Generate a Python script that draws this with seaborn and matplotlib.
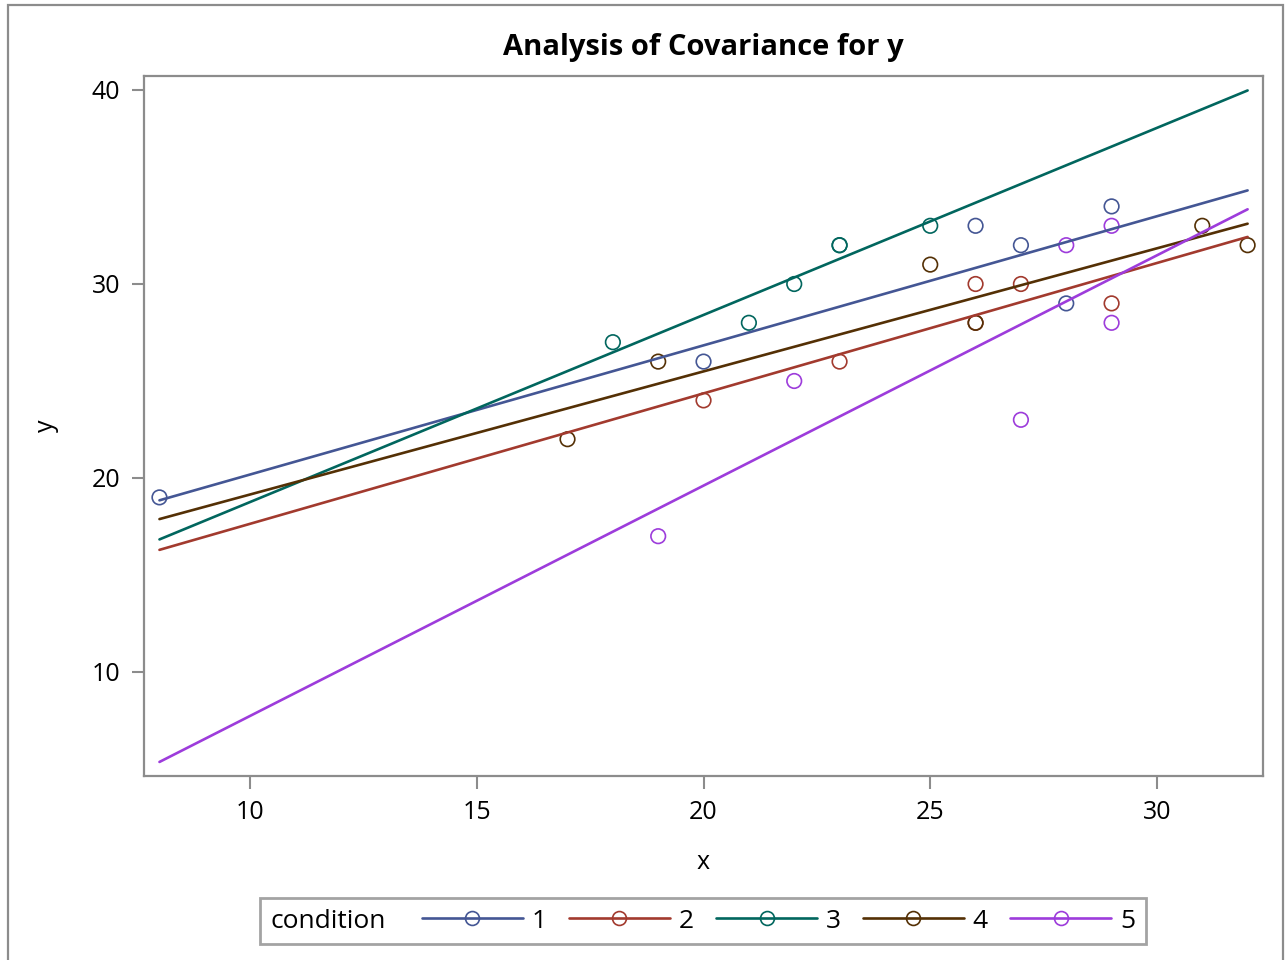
import numpy as np
import pandas as pd
import matplotlib
matplotlib.use("Agg")
import matplotlib.pyplot as plt
import seaborn as sns
from matplotlib.lines import Line2D
from matplotlib.patches import Rectangle
from matplotlib.offsetbox import HPacker

# data
cond1_x = [8, 20, 26, 27, 28, 29]
cond1_y = [19, 26, 33, 32, 29, 34]
cond2_x = [20, 23, 26, 27, 29, 26]
cond2_y = [24, 26, 30, 30, 29, 28]
cond3_x = [18, 21, 22, 23, 23, 25]
cond3_y = [27, 28, 30, 32, 32, 33]
cond4_x = [17, 19, 25, 26, 31, 32]
cond4_y = [22, 26, 31, 28, 33, 32]
cond5_x = [19, 22, 27, 28, 29, 29]
cond5_y = [17, 25, 23, 32, 33, 28]

conditions = ["1", "2", "3", "4", "5"]
colors = ["#445694", "#A23A2E", "#01665E", "#543005", "#9D3CDB"]
x_ticks = [10, 15, 20, 25, 30]
y_ticks = [10, 20, 30, 40]

df = pd.concat([
    pd.DataFrame({"x": cond1_x, "y": cond1_y, "condition": "1"}),
    pd.DataFrame({"x": cond2_x, "y": cond2_y, "condition": "2"}),
    pd.DataFrame({"x": cond3_x, "y": cond3_y, "condition": "3"}),
    pd.DataFrame({"x": cond4_x, "y": cond4_y, "condition": "4"}),
    pd.DataFrame({"x": cond5_x, "y": cond5_y, "condition": "5"}),
], ignore_index=True)

sns.set_style("white")
plt.rcParams["font.family"] = ["Open Sans", "DejaVu Sans"]
plt.rcParams["text.color"] = "black"
plt.rcParams["axes.labelcolor"] = "black"
plt.rcParams["xtick.labelcolor"] = "black"
plt.rcParams["ytick.labelcolor"] = "black"
grey = "#8c8c8c"

fig = plt.figure(figsize=(12.85, 9.6), dpi=100)
ax = fig.add_axes([0.1121, 0.1917, 0.8708, 0.7291])

# fitted lines span the full x range of the data
ax.set_xlim(df["x"].min(), df["x"].max())
for cond, col in zip(conditions, colors):
    sub = df[df["condition"] == cond]
    sns.regplot(data=sub, x="x", y="y", ax=ax, scatter=False, ci=None,
                truncate=False, color=col, line_kws={"linewidth": 1.9})

sns.scatterplot(data=df, x="x", y="y", hue="condition", palette=colors,
                hue_order=conditions, ax=ax, s=110, marker="o",
                linewidth=1.2, legend=False)
# open circles coloured by group
pts = ax.collections[-1]
pts.set_facecolor("none")
pts.set_edgecolors([colors[conditions.index(c)] for c in df["condition"]])

ax.set_xlim(7.66, 32.34)
ax.set_ylim(4.64, 40.72)
ax.set_xticks(x_ticks)
ax.set_yticks(y_ticks)
ax.tick_params(axis="both", direction="out", length=9, width=1.5, color=grey,
               labelsize=18, pad=8, bottom=True, left=True)
for sp in ax.spines.values():
    sp.set_color(grey)
    sp.set_linewidth(1.6)
ax.set_xlabel("x", fontsize=18, labelpad=18)
ax.set_ylabel("y", fontsize=18, labelpad=24)
ax.set_title("Analysis of Covariance for y", fontsize=21, fontweight="bold", pad=15)

handles = [Line2D([0], [0], color=c, linewidth=1.9, marker="o", markersize=10,
                  markerfacecolor="none", markeredgecolor=c, markeredgewidth=1.2)
           for c in colors]
fs = 19
leg = fig.legend(handles, conditions, loc="center", bbox_to_anchor=(0.547, 0.0406),
                 ncol=5, fontsize=fs, frameon=True, fancybox=False, numpoints=1,
                 handlelength=3.8, columnspacing=0.85, handletextpad=0.35,
                 borderpad=0.4, title="condition", title_fontsize=fs)
leg.get_frame().set_edgecolor(grey)
leg.get_frame().set_linewidth(2.0)
# put the title to the left of the entries
leg._legend_box = HPacker(pad=leg.borderpad * fs, sep=26, align="center",
                          children=[leg._legend_title_box, leg._legend_handle_box])
leg._legend_box.set_figure(fig)
leg._legend_box.set_offset(leg._findoffset)

fig.patches.append(Rectangle((8 / 1285, -0.02), 1275 / 1285, 1.02 - 5 / 960,
                             transform=fig.transFigure, fill=False,
                             edgecolor=grey, linewidth=1.6))

fig.savefig("out.png", dpi=100)
